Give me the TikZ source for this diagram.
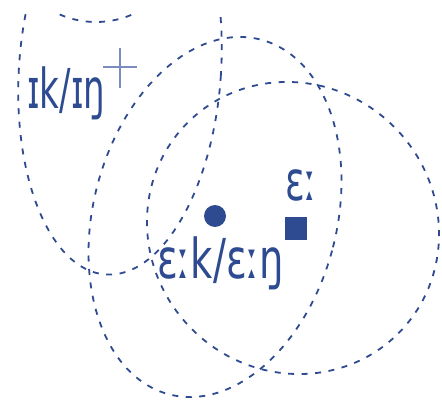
\documentclass[tikz,border=0pt]{standalone}
\usepackage{fontspec}
\usetikzlibrary{calc}
\newfontfamily\ipa{DejaVu Sans}
\definecolor{ink}{RGB}{46,74,145}
\definecolor{inklight}{RGB}{125,140,190}
\begin{document}
\begin{tikzpicture}[x=1pt,y=1pt,
  region/.style={draw=ink, line width=1.8pt, dash pattern=on 6pt off 7.5pt},
  lbl/.style={inner sep=0pt, anchor=base west, text=ink, font=\ipa\fontsize{55}{60}\selectfont},
  centroid/.style={fill=ink, inner sep=0pt}]
\useasboundingbox (0,0) rectangle (442,400);
\begin{scope}
  \clip (0,0) rectangle (442,386);
  \draw[region, rotate around={-4:(120,330)}] (120,330) ellipse [x radius=101, y radius=205];
  \draw[region, rotate around={-14.4:(215,183)}] (215,183) ellipse [x radius=121.8, y radius=183.2];
  \draw[region, rotate around={-45:(293,172)}] (293,172) ellipse [x radius=149, y radius=143];
  \draw[region] (96,469) circle [radius=91];
\end{scope}
\coordinate (c1) at (120,333);
\draw[inklight, line width=2pt] ($(c1)+(-17,0)$) -- ($(c1)+(17,0)$) ($(c1)+(0,19)$) -- ($(c1)+(0,-21)$);
\node[centroid, circle, minimum size=22pt] (c2) at (215,184) {};
\node[centroid, minimum width=22pt, minimum height=23pt] (c3) at (296,172) {};
\node[lbl] (t1) at (27,292) {\resizebox{78pt}{\height}{ɪk/ɪŋ}};
\node[lbl] (t2) at (157,122) {\resizebox{127pt}{\height}{ɛːk/ɛːŋ}};
\node[lbl] (t3) at (285,200) {\resizebox{32pt}{\height}{ɛː}};
\end{tikzpicture}
\end{document}
